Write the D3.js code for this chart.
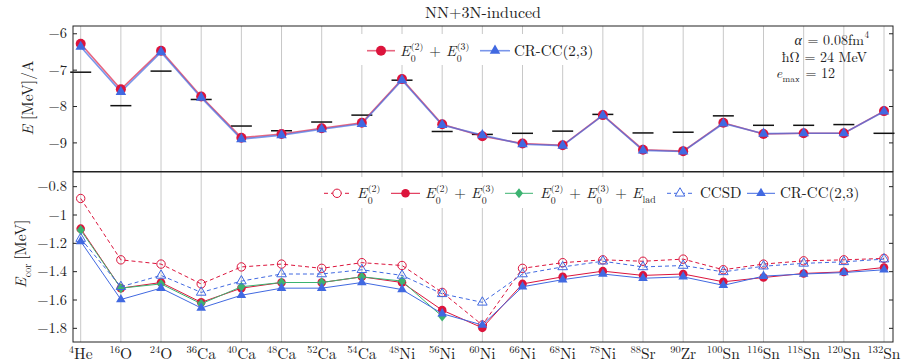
<!DOCTYPE html>
<html><head><meta charset="utf-8">
<script src="https://cdn.jsdelivr.net/npm/d3@7"></script>
<style>body{margin:0;background:#fff}</style>
</head><body>
<svg id="c" width="903" height="362"></svg>
<script>
// ---------- data ----------
const massNumbers = [4,16,24,36,40,48,52,54,48,56,60,66,68,78,88,90,100,116,118,120,132];
const elements = ["He","O","O","Ca","Ca","Ca","Ca","Ca","Ni","Ni","Ni","Ni","Ni","Ni","Sr","Zr","Sn","Sn","Sn","Sn","Sn"];

// top panel: E/A [MeV]
const expTop  = [-7.07,-7.99,-7.04,-7.82,-8.55,-8.68,-8.44,-8.25,-7.29,-8.70,-8.78,-8.75,-8.69,-8.23,-8.74,-8.72,-8.27,-8.53,-8.53,-8.51,-8.75];
const e23Top  = [-6.29,-7.54,-6.48,-7.74,-8.87,-8.77,-8.61,-8.46,-7.26,-8.50,-8.83,-9.03,-9.08,-8.25,-9.20,-9.24,-8.46,-8.77,-8.75,-8.75,-8.14];
const crccTop = [-6.37,-7.61,-6.52,-7.77,-8.91,-8.80,-8.64,-8.49,-7.29,-8.52,-8.80,-9.05,-9.09,-8.26,-9.22,-9.25,-8.48,-8.76,-8.75,-8.75,-8.15];

// bottom panel: E_cor [MeV]
const e2Cor   = [-0.887,-1.32,-1.35,-1.49,-1.37,-1.35,-1.38,-1.34,-1.36,-1.55,-1.78,-1.38,-1.34,-1.32,-1.33,-1.315,-1.39,-1.35,-1.327,-1.32,-1.31];
const e23Cor  = [-1.10,-1.52,-1.48,-1.62,-1.52,-1.48,-1.48,-1.44,-1.48,-1.675,-1.80,-1.49,-1.44,-1.40,-1.43,-1.42,-1.475,-1.445,-1.416,-1.405,-1.374];
const eladCor = [-1.11,-1.52,-1.49,-1.63,-1.51,-1.48,-1.48,-1.44,-1.47,-1.72];
const ccsdCor = [-1.17,-1.51,-1.43,-1.55,-1.47,-1.42,-1.42,-1.39,-1.43,-1.56,-1.62,-1.42,-1.37,-1.33,-1.37,-1.36,-1.405,-1.365,-1.345,-1.334,-1.315];
const crccCor = [-1.19,-1.60,-1.52,-1.66,-1.57,-1.52,-1.52,-1.48,-1.53,-1.70,-1.78,-1.51,-1.46,-1.42,-1.45,-1.44,-1.50,-1.435,-1.42,-1.41,-1.39];

const yTicksTop = [-6,-7,-8,-9];
const yTicksBot = [-0.8,-1,-1.2,-1.4,-1.6,-1.8];

// ---------- layout ----------
const FONT = "Latin Modern Roman";
const INK = "#222";
const svg = d3.select("#c");
const L = 73, R = 893;
const topP = {y0:26, y1:171.5};
const botP = {y0:172, y1:342};
const RED = "#dc143c", BLUE = "#4169e1", GREEN = "#3cb371";

const idx = d3.range(massNumbers.length);
const x = d3.scaleLinear().domain([0, massNumbers.length-1]).range([80.7, 884]);
const yT = d3.scaleLinear().domain([-9.8,-5.8]).range([topP.y1, topP.y0]);
const yB = d3.scaleLinear().domain([-1.9,-0.7]).range([botP.y1, botP.y0]);

function txt(g){ return g.append("text").attr("font-family",FONT).attr("fill",INK).style("white-space","pre"); }

// rich text helper: one <text> with absolutely placed tspans (math-like layout)
function rich(g, px, py, parts, size, anchor){
  const grp = g.append("g");
  const t = txt(grp).attr("font-size",size);
  let cx = 0;
  const sm = size*0.66, up = -size*0.43, dn = size*0.38;
  parts.forEach(p=>{
    if (p.stack){
      const a = t.append("tspan").attr("x",cx).attr("y",up).attr("font-size",sm).text(p.stack[0]);
      const b = t.append("tspan").attr("x",cx).attr("y",dn).attr("font-size",sm).text(p.stack[1]);
      cx += Math.max(a.node().getComputedTextLength(), b.node().getComputedTextLength()) + 1;
    } else {
      const s = t.append("tspan").attr("x",cx).attr("y", p.sub?dn*0.8:p.sup?up:0)
        .attr("font-size", p.sub||p.sup ? sm : size)
        .attr("font-style", p.it ? "italic" : "normal").text(p.t);
      cx += s.node().getComputedTextLength() + (p.after||0);
    }
  });
  const sh = anchor==="end" ? -cx : anchor==="middle" ? -cx/2 : 0;
  grp.attr("transform",`translate(${px+sh},${py})`);
  return grp;
}

function panel(p, yS, ticks){
  const g = svg.append("g");
  g.selectAll("line.grid").data(idx).join("line")
    .attr("x1",d=>x(d)).attr("x2",d=>x(d)).attr("y1",p.y0).attr("y2",p.y1)
    .attr("stroke","#c8c8c8").attr("stroke-width",1);
  const la = g.append("g").attr("transform",`translate(${L},0)`)
    .call(d3.axisLeft(yS).tickValues(ticks).tickSizeInner(-4).tickSizeOuter(0).tickPadding(6).tickFormat(d3.format("")));
  la.attr("font-family",FONT).attr("font-size",14.5);
  la.select(".domain").remove();
  la.selectAll("text").attr("font-family",FONT).attr("font-size",14.5).attr("fill",INK);
  la.selectAll("line").attr("stroke",INK);
  const ra = g.append("g").attr("transform",`translate(${R},0)`)
    .call(d3.axisRight(yS).tickValues(ticks).tickSizeInner(-4).tickSizeOuter(0).tickFormat(""));
  ra.select(".domain").remove();
  ra.selectAll("line").attr("stroke",INK);
  return g;
}

const gT = panel(topP, yT, yTicksTop);
const gB = panel(botP, yB, yTicksBot);

// ---------- top panel ----------
const lineT = ys => d3.line().x((d,i)=>x(i)).y(d=>ys(d));
gT.selectAll("line.exp").data(expTop).join("line")
  .attr("x1",(d,i)=>x(i)-10.5).attr("x2",(d,i)=>x(i)+10.5)
  .attr("y1",d=>yT(d)).attr("y2",d=>yT(d)).attr("stroke","#111").attr("stroke-width",1.5);
gT.append("path").datum(e23Top).attr("d",lineT(yT)).attr("fill","none")
  .attr("stroke",RED).attr("stroke-opacity",0.65).attr("stroke-width",1.6);
gT.append("path").datum(crccTop).attr("d",lineT(yT)).attr("fill","none")
  .attr("stroke",BLUE).attr("stroke-opacity",0.7).attr("stroke-width",1.6);
gT.selectAll("circle.e23").data(e23Top).join("circle")
  .attr("cx",(d,i)=>x(i)).attr("cy",d=>yT(d)).attr("r",5).attr("fill",RED);
const triBig = d3.symbol().type(d3.symbolTriangle).size(48);
gT.selectAll("path.crcc").data(crccTop).join("path")
  .attr("d",triBig).attr("transform",(d,i)=>`translate(${x(i)},${yT(d)})`).attr("fill",BLUE);

// ---------- bottom panel ----------
const triSm = d3.symbol().type(d3.symbolTriangle).size(40);
const diamond = "M0,-5L4,0L0,5L-4,0Z";
function series(g, data, color, dashed){
  g.append("path").datum(data).attr("d",lineT(yB)).attr("fill","none")
    .attr("stroke",color).attr("stroke-width",1).attr("stroke-dasharray",dashed?"4,3":null);
}
series(gB, e2Cor, RED, true);
gB.selectAll("circle.e2").data(e2Cor).join("circle")
  .attr("cx",(d,i)=>x(i)).attr("cy",d=>yB(d)).attr("r",4.2).attr("fill","none").attr("stroke",RED).attr("stroke-width",1);
series(gB, e23Cor, RED, false);
gB.selectAll("circle.e23").data(e23Cor).join("circle")
  .attr("cx",(d,i)=>x(i)).attr("cy",d=>yB(d)).attr("r",4.3).attr("fill",RED);
series(gB, eladCor, GREEN, false);
gB.selectAll("path.elad").data(eladCor).join("path")
  .attr("d",diamond).attr("transform",(d,i)=>`translate(${x(i)},${yB(d)})`).attr("fill",GREEN);
series(gB, ccsdCor, BLUE, true);
gB.selectAll("path.ccsd").data(ccsdCor).join("path")
  .attr("d",triSm).attr("transform",(d,i)=>`translate(${x(i)},${yB(d)})`).attr("fill","none").attr("stroke",BLUE).attr("stroke-width",1);
series(gB, crccCor, BLUE, false);
gB.selectAll("path.crcc").data(crccCor).join("path")
  .attr("d",triSm).attr("transform",(d,i)=>`translate(${x(i)},${yB(d)})`).attr("fill",BLUE);

// ---------- frames ----------
[topP, botP].forEach(p=>{
  svg.append("rect").attr("x",L).attr("y",p.y0).attr("width",R-L).attr("height",p.y1-p.y0)
    .attr("fill","none").attr("stroke",INK).attr("stroke-width",1);
});

// ---------- x labels ----------
const xl = svg.append("g");
idx.forEach(i=>{
  const t = txt(xl).attr("x",x(i)).attr("y",359).attr("text-anchor","middle");
  t.append("tspan").attr("font-size",10.5).attr("dy",-6).text(massNumbers[i]);
  t.append("tspan").attr("font-size",15.5).attr("dy",6).text(elements[i]);
});

// ---------- title & axis titles ----------
txt(svg).attr("x",483).attr("y",18).attr("text-anchor","middle").attr("font-size",16).text("NN+3N-induced");
const ylT = svg.append("g").attr("transform","translate(33,98) rotate(-90)");
rich(ylT,0,0,[{t:"E",it:true},{t:" [MeV]/A"}],15.5,"middle");
const ylB = svg.append("g").attr("transform","translate(26,254) rotate(-90)");
rich(ylB,0,0,[{t:"E",it:true,after:0.5},{t:"cor",sub:true,after:4},{t:"[MeV]"}],15.5,"middle");

// ---------- annotation ----------
const an = svg.append("g");
rich(an,869,44.5,[{t:"α",it:true,after:1},{t:" = 0.08fm",after:0.5},{t:"4",sup:true}],14,"end");
rich(an,867,61.5,[{t:"ħΩ = 24 MeV"}],14,"end");
rich(an,835,78,[{t:"e",it:true,after:0.5},{t:"max",sub:true,after:1},{t:" = 12"}],14,"end");

// ---------- legends ----------
const lg = svg.append("g");
const E = {t:"E",it:true,after:0.5};
// top legend
lg.append("rect").attr("x",361).attr("y",34).attr("width",236).attr("height",31).attr("fill","#fff");
lg.append("line").attr("x1",367).attr("x2",395).attr("y1",50.7).attr("y2",50.7).attr("stroke",RED).attr("stroke-opacity",0.65).attr("stroke-width",1.6);
lg.append("circle").attr("cx",381).attr("cy",50.7).attr("r",5).attr("fill",RED);
rich(lg,400,56,[E,{stack:["(2)","0"]},{t:" + "},E,{stack:["(3)","0"]}],15,"start");
lg.append("line").attr("x1",480).attr("x2",510).attr("y1",50.7).attr("y2",50.7).attr("stroke",BLUE).attr("stroke-opacity",0.7).attr("stroke-width",1.6);
lg.append("path").attr("d",triBig).attr("transform","translate(495,50.7)").attr("fill",BLUE);
rich(lg,514,56,[{t:"CR-CC(2,3)"}],15,"start");

// bottom legend
const ly = 193.3, lb = 198;
lg.append("rect").attr("x",317).attr("y",177).attr("width",546).attr("height",31).attr("fill","#fff");
lg.append("line").attr("x1",324).attr("x2",350).attr("y1",ly).attr("y2",ly).attr("stroke",RED).attr("stroke-dasharray","4,3");
lg.append("circle").attr("cx",337).attr("cy",ly).attr("r",4.2).attr("fill","#fff").attr("stroke",RED);
rich(lg,357,lb,[E,{stack:["(2)","0"]}],15,"start");
lg.append("line").attr("x1",391).attr("x2",420).attr("y1",ly).attr("y2",ly).attr("stroke",RED);
lg.append("circle").attr("cx",405.5).attr("cy",ly).attr("r",4.3).attr("fill",RED);
rich(lg,425,lb,[E,{stack:["(2)","0"]},{t:" + "},E,{stack:["(3)","0"]}],15,"start");
lg.append("line").attr("x1",505).attr("x2",533).attr("y1",ly).attr("y2",ly).attr("stroke",GREEN);
lg.append("path").attr("d",diamond).attr("transform",`translate(519,${ly})`).attr("fill",GREEN);
rich(lg,540,lb,[E,{stack:["(2)","0"]},{t:" + "},E,{stack:["(3)","0"]},{t:" + "},E,{t:"lad",sub:true}],15,"start");
lg.append("line").attr("x1",667).attr("x2",693).attr("y1",ly).attr("y2",ly).attr("stroke",BLUE).attr("stroke-dasharray","4,3");
lg.append("path").attr("d",triSm).attr("transform",`translate(680,${ly})`).attr("fill","#fff").attr("stroke",BLUE);
rich(lg,700,lb,[{t:"CCSD"}],15,"start");
lg.append("line").attr("x1",747).attr("x2",775).attr("y1",ly).attr("y2",ly).attr("stroke",BLUE);
lg.append("path").attr("d",triSm).attr("transform",`translate(761,${ly})`).attr("fill",BLUE);
rich(lg,780,lb,[{t:"CR-CC(2,3)"}],15,"start");
</script>
</body></html>
